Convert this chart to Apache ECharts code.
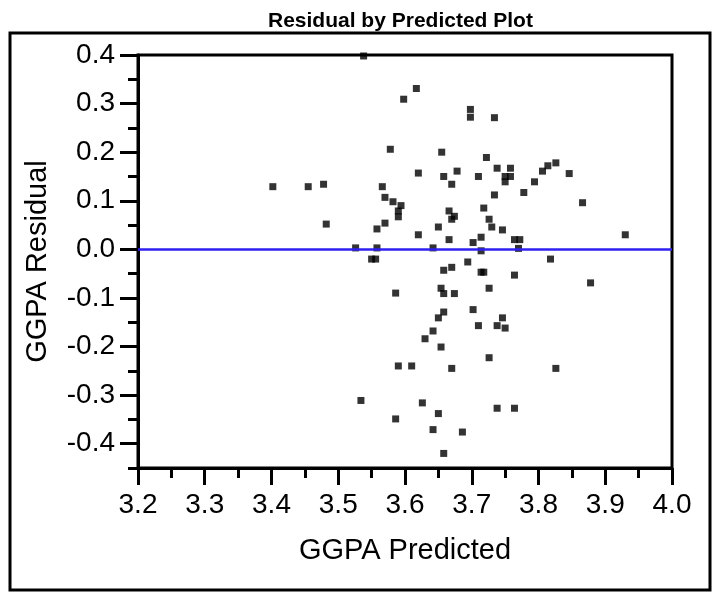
<!DOCTYPE html>
<html>
<head>
<meta charset="utf-8">
<script src="https://cdn.jsdelivr.net/npm/echarts@6/dist/echarts.min.js"></script>
<style>
  html, body { margin: 0; padding: 0; background: #fff; }
  #chart { width: 714px; height: 592px; }
</style>
</head>
<body>
<div id="chart"></div>
<script>
// predicted GGPA vs residual
const predicted = [
  3.538, 3.617, 3.598, 3.578, 3.620, 3.402, 3.455, 3.478, 3.566, 3.570,
  3.582, 3.594, 3.590, 3.590, 3.482, 3.570, 3.558, 3.620, 3.526, 3.558,
  3.550, 3.556, 3.586, 3.590, 3.610, 3.534, 3.626, 3.586,
  3.698, 3.698, 3.734, 3.655, 3.722, 3.658, 3.678, 3.670, 3.710, 3.738,
  3.758, 3.750, 3.758, 3.750, 3.806, 3.814, 3.826, 3.846, 3.794, 3.778,
  3.734, 3.866, 3.666, 3.674, 3.670, 3.718, 3.726, 3.730, 3.746, 3.650,
  3.666, 3.702, 3.714, 3.764, 3.772, 3.930, 3.642, 3.770,
  3.714, 3.818, 3.694, 3.658, 3.670, 3.714, 3.718, 3.764, 3.878, 3.654,
  3.658, 3.674, 3.726, 3.658, 3.650, 3.702, 3.746, 3.710, 3.738, 3.750,
  3.642, 3.630, 3.654, 3.726, 3.670, 3.826, 3.650, 3.738, 3.764, 3.642,
  3.686, 3.658
]
const residual = [
  0.398, 0.331, 0.309, 0.206, 0.157, 0.129, 0.129, 0.134, 0.129, 0.107,
  0.098, 0.090, 0.079, 0.067, 0.052, 0.054, 0.042, 0.030, 0.003, 0.003,
  -0.020, -0.020, -0.090, -0.240, -0.240, -0.311, -0.316, -0.349,
  0.288, 0.272, 0.271, 0.200, 0.189, 0.150, 0.161, 0.134, 0.150, 0.167,
  0.167, 0.150, 0.150, 0.139, 0.161, 0.172, 0.178, 0.156, 0.139, 0.117,
  0.112, 0.096, 0.079, 0.068, 0.062, 0.085, 0.062, 0.046, 0.040, 0.046,
  0.020, 0.014, 0.025, 0.020, 0.020, 0.030, 0.003, 0.002,
  -0.003, -0.020, -0.026, -0.043, -0.037, -0.047, -0.047, -0.053, -0.069, -0.080,
  -0.091, -0.091, -0.080, -0.129, -0.141, -0.124, -0.141, -0.157, -0.157, -0.162,
  -0.168, -0.184, -0.201, -0.223, -0.245, -0.245, -0.338, -0.327, -0.327, -0.371,
  -0.376, -0.420
]
const xTickValues = [3.2, 3.3, 3.4, 3.5, 3.6, 3.7, 3.8, 3.9, 4.0]
const yTickValues = [-0.4, -0.3, -0.2, -0.1, 0.0, 0.1, 0.2, 0.3, 0.4]
const yTickLabels = ['-0.4', '-0.3', '-0.2', '-0.1', '0.0', '0.1', '0.2', '0.3', '0.4']

const points = predicted.map((x, i) => [x, residual[i]])
const font = 'Arial, "Liberation Sans", sans-serif'
const black = '#000'

const chart = echarts.init(document.getElementById('chart'), null, { renderer: 'canvas' })

chart.setOption({
  animation: false,
  backgroundColor: '#fff',
  title: {
    text: 'Residual by Predicted Plot',
    left: 263,
    top: 6,
    textStyle: { fontFamily: font, fontWeight: 'bold', fontSize: 21, color: black }
  },
  graphic: [{
    type: 'rect',
    shape: { x: 10, y: 33, width: 700, height: 557 },
    style: { fill: null, stroke: black, lineWidth: 3 },
    silent: true
  }],
  grid: {
    left: 138, right: 42, top: 55, bottom: 124,
    show: true, borderColor: black, borderWidth: 3
  },
  xAxis: {
    type: 'value',
    min: 3.2, max: 4.0, interval: 0.1,
    name: 'GGPA Predicted',
    nameLocation: 'middle',
    nameGap: 68,
    nameTextStyle: { fontFamily: font, fontSize: 29, color: black },
    axisLine: { onZero: false, lineStyle: { color: black, width: 3 } },
    axisTick: { length: 17, lineStyle: { color: black, width: 3 } },
    minorTick: { show: true, splitNumber: 2, length: 10, lineStyle: { color: black, width: 3 } },
    axisLabel: {
      margin: 23, fontFamily: font, fontSize: 28, color: black,
      customValues: xTickValues,
      formatter: (v) => v.toFixed(1)
    },
    splitLine: { show: false }
  },
  yAxis: [{
    type: 'value',
    min: -0.45, max: 0.4, interval: 0.05,
    axisLine: { onZero: false, lineStyle: { color: black, width: 3 } },
    axisTick: { length: 10, lineStyle: { color: black, width: 3 } },
    axisLabel: { show: false },
    splitLine: { show: false }
  }, {
    type: 'value',
    position: 'left',
    min: -0.45, max: 0.4, interval: 0.05,
    name: 'GGPA Residual',
    nameLocation: 'middle',
    nameGap: 86,
    nameTextStyle: { fontFamily: font, fontSize: 29, color: black },
    axisLine: { show: false, onZero: false },
    axisTick: { length: 18, customValues: yTickValues, lineStyle: { color: black, width: 3 } },
    axisLabel: {
      margin: 23, fontFamily: font, fontSize: 28, color: black,
      customValues: yTickValues,
      formatter: (v) => yTickLabels[yTickValues.findIndex((t) => Math.abs(t - v) < 1e-6)]
    },
    splitLine: { show: false }
  }],
  series: [{
    type: 'scatter',
    yAxisIndex: 0,
    symbol: 'rect',
    symbolSize: 7,
    itemStyle: { color: black },
    data: points,
    markLine: {
      silent: true,
      symbol: 'none',
      label: { show: false },
      lineStyle: { color: '#3020f0', width: 2.5, type: 'solid' },
      data: [{ yAxis: 0 }]
    }
  }]
})
</script>
</body>
</html>
